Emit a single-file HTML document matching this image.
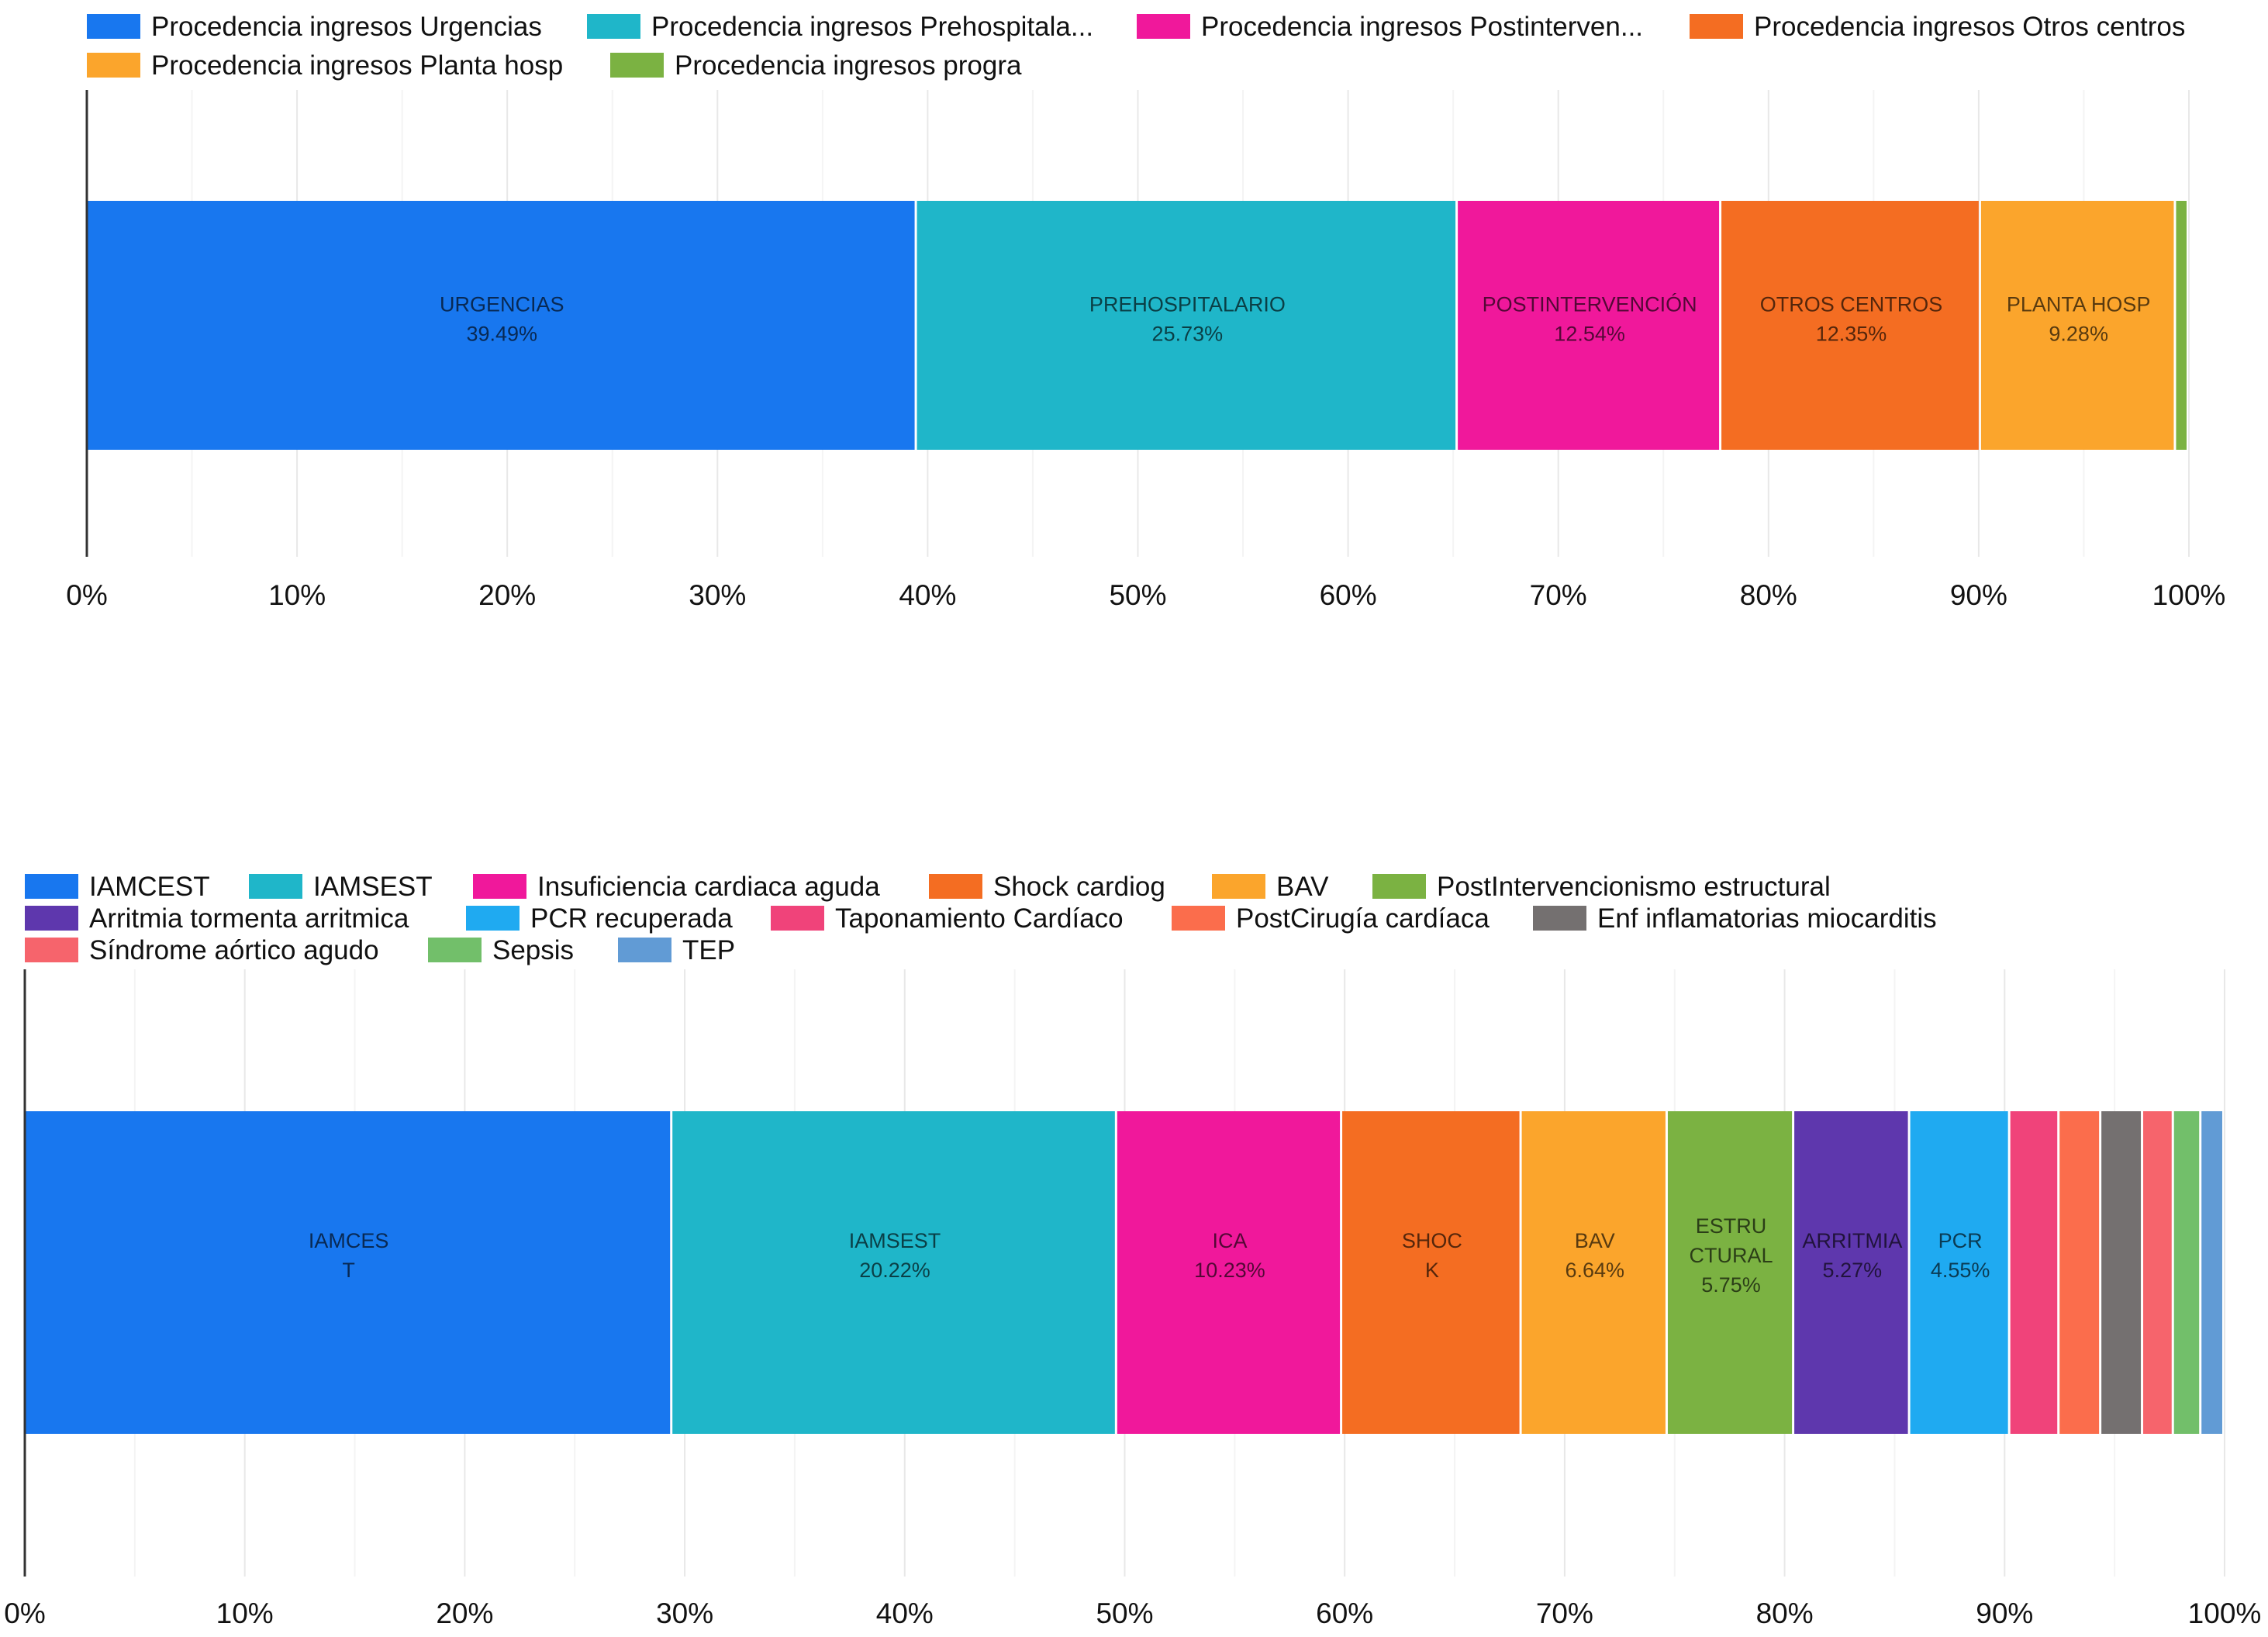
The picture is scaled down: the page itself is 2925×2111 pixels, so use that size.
<!DOCTYPE html>
<html><head><meta charset="utf-8"><style>
html,body{margin:0;padding:0;background:#fff;}
svg{display:block;font-family:"Liberation Sans",sans-serif;}
</style></head><body>
<svg id="c" width="2925" height="2111" viewBox="0 0 2925 2111" xmlns="http://www.w3.org/2000/svg"></svg>
<script>
// ---- Chart 1 data ----
const topCats = ["Procedencia ingresos Urgencias","Procedencia ingresos Prehospitala...","Procedencia ingresos Postinterven...","Procedencia ingresos Otros centros","Procedencia ingresos Planta hosp","Procedencia ingresos progra"];
const topValues = [39.49, 25.73, 12.54, 12.35, 9.28, 0.61];
const topLabels = [["URGENCIAS","39.49%"],["PREHOSPITALARIO","25.73%"],["POSTINTERVENCIÓN","12.54%"],["OTROS CENTROS","12.35%"],["PLANTA HOSP","9.28%"],[]];
const topColors = ["#1877ef","#1fb6c9","#f0189b","#f46d22","#fba52c","#7bb242"];
// ---- Chart 2 data ----
const botCats = ["IAMCEST","IAMSEST","Insuficiencia cardiaca aguda","Shock cardiog","BAV","PostIntervencionismo estructural","Arritmia tormenta arritmica","PCR recuperada","Taponamiento Cardíaco","PostCirugía cardíaca","Enf inflamatorias miocarditis","Síndrome aórtico agudo","Sepsis","TEP"];
const botValues = [29.44, 20.22, 10.23, 8.16, 6.64, 5.75, 5.27, 4.55, 2.24, 1.9, 1.9, 1.4, 1.25, 1.05];
const botLabels = [["IAMCES","T"],["IAMSEST","20.22%"],["ICA","10.23%"],["SHOC","K"],["BAV","6.64%"],["ESTRU","CTURAL","5.75%"],["ARRITMIA","5.27%"],["PCR","4.55%"],[],[],[],[],[],[]];
const botColors = ["#1877ef","#1fb6c9","#f0189b","#f46d22","#fba52c","#7bb242","#5e37ad","#1faaf1","#f0437a","#fb6d4c","#747070","#f6646c","#72bf6a","#619bd5"];
const tickVals = [0,10,20,30,40,50,60,70,80,90,100];
const tickLabels = ["0%","10%","20%","30%","40%","50%","60%","70%","80%","90%","100%"];

const svg = document.getElementById('c');
const NS = "http://www.w3.org/2000/svg";
function mk(tag, attrs, parent){const e=document.createElementNS(NS,tag);for(const k in attrs)e.setAttribute(k,attrs[k]);(parent||svg).appendChild(e);return e;}

function chart(cfg){
  const g = mk('g',{});
  
  
  const X = v => cfg.x0 + (cfg.x1-cfg.x0)*v/100;
  cfg.legend.forEach((it,i)=>{
    const lg = mk('g',{},g);
    
    
    mk('rect',{x:it[0],y:it[1]-16,width:69,height:32,fill:cfg.colors[i]},lg);
    const t = mk('text',{x:it[0]+83,y:it[1]+12,'font-size':cfg.lf,fill:'#111'},lg);
    t.textContent = cfg.cats[i];
  });
  for(let v=0; v<=100; v+=5){
    const l = mk('line',{x1:X(v),x2:X(v),y1:cfg.gy0,y2:cfg.gy1,stroke: v%10===0?'#e8e8e8':'#f4f4f4','stroke-width':2},g);
    
    
  }
  let acc = 0;
  cfg.values.forEach((v,i)=>{
    const xa = X(acc), xb = X(acc+v);
    const r = mk('rect',{x:xa,y:cfg.by0,width:Math.max(0,xb-xa-3),height:cfg.by1-cfg.by0,fill:cfg.colors[i]},g);
    
    
    const lines = cfg.labels[i];
    const cy = (cfg.by0+cfg.by1)/2 + cfg.lOff - (lines.length-1)*19;
    lines.forEach((s,j)=>{
      const t = mk('text',{x:(xa+xb)/2,y:cy+j*38+9,'font-size':27,'text-anchor':'middle',fill:'rgba(0,0,0,0.65)'},g);
      
      
      t.textContent = s;
    });
    acc += v;
  });
  const ax = mk('line',{x1:cfg.x0,x2:cfg.x0,y1:cfg.gy0,y2:cfg.gy1,stroke:'#333','stroke-width':3},g);
  
  
  tickVals.forEach((v,i)=>{
    const t = mk('text',{x:X(v),y:cfg.ty+13,'font-size':37,'text-anchor':'middle',fill:'#111'},g);
    
    
    t.textContent = tickLabels[i];
  });
}

chart({name:'procedencia-chart', x0:112, x1:2823, gy0:116, gy1:718, by0:259, by1:580, ty:767, lOff:-8, lf:35,
  cats:topCats, values:topValues, labels:topLabels, colors:topColors,
  legend:[[112,34],[757,34],[1466,34],[2179,34],[112,84],[787,84]]});
chart({name:'diagnostico-chart', x0:32, x1:2869, gy0:1250, gy1:2033, by0:1433, by1:1849, ty:2080, lOff:-22, lf:35,
  cats:botCats, values:botValues, labels:botLabels, colors:botColors,
  legend:[[32,1143],[321,1143],[610,1143],[1198,1143],[1563,1143],[1770,1143],
          [32,1184],[601,1184],[994,1184],[1511,1184],[1977,1184],
          [32,1225],[552,1225],[797,1225]]});
</script>
</body></html>
